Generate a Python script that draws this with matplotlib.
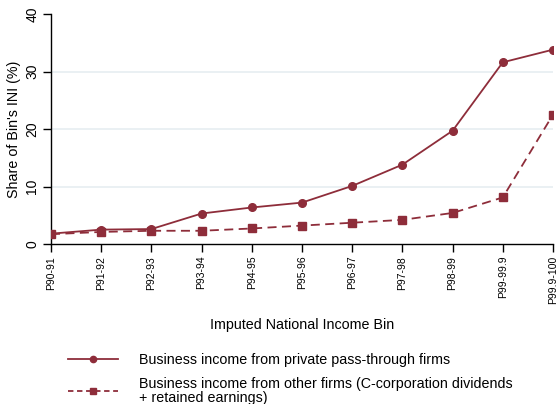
import matplotlib
matplotlib.use("Agg")
import matplotlib.pyplot as plt
from matplotlib.lines import Line2D

plt.rcParams['font.family'] = ['Liberation Sans', 'DejaVu Sans']

bins = ["P90-91", "P91-92", "P92-93", "P93-94", "P94-95", "P95-96",
        "P96-97", "P97-98", "P98-99", "P99-99.9", "P99.9-100"]
pass_through = [1.8, 2.5, 2.6, 5.3, 6.35, 7.2, 10.1, 13.8, 19.7, 31.6, 33.8]
other_firms = [1.7, 2.1, 2.3, 2.3, 2.7, 3.2, 3.7, 4.2, 5.4, 8.1, 22.5]
y_ticks = [0, 10, 20, 30, 40]

color = "#8E2D3A"
grid_color = "#E6EEF1"

fig = plt.figure(figsize=(5.59, 4.04), dpi=100)
ax = fig.add_axes([51 / 559, 1 - 244 / 404, (553 - 51) / 559, (244 - 14) / 404])

x = list(range(len(bins)))
ax.plot(x, pass_through, color=color, lw=1.3, marker="o", ms=5.5, zorder=3)
ax.plot(x, other_firms, color=color, lw=1.3, ls=(0, (5, 3)), marker="s", ms=5.5,
        zorder=3)

ax.set_xlim(0, len(bins) - 1)
ax.set_ylim(0, 40)
ax.set_yticks(y_ticks)
ax.set_yticklabels([str(t) for t in y_ticks], rotation=90, va="center", fontsize=10)
ax.set_xticks(x)
ax.set_xticklabels(bins, rotation=90, fontsize=7.5)
for t in y_ticks[1:-1]:
    ax.axhline(t, color=grid_color, lw=1.2, zorder=1)

for side in ("top", "right"):
    ax.spines[side].set_visible(False)
ax.spines["left"].set_linewidth(1.0)
ax.spines["bottom"].set_linewidth(1.0)
ax.tick_params(axis="both", length=5.5, width=1.0, pad=3)

ax.set_ylabel("Share of Bin's INI (%)", fontsize=10.3, labelpad=3)
ax.set_xlabel("Imputed National Income Bin", fontsize=10.3, labelpad=10)

handles = [
    Line2D([], [], color=color, lw=1.3, marker="o", ms=4.5),
    Line2D([], [], color=color, lw=1.3, ls=(0, (3, 2)), marker="s", ms=4.5),
]
labels = [
    "Business income from private pass-through firms",
    "Business income from other firms (C-corporation dividends\n+ retained earnings)",
]
leg = fig.legend(handles, labels, loc="upper left",
                 bbox_to_anchor=(62 / 559, 1 - 347 / 404),
                 frameon=False, fontsize=10.3, handlelength=3.5, handletextpad=1.45,
                 labelspacing=0.73, borderaxespad=0)
for t in leg.get_texts():
    t.set_linespacing(0.95)

fig.savefig("out.png", dpi=100)
